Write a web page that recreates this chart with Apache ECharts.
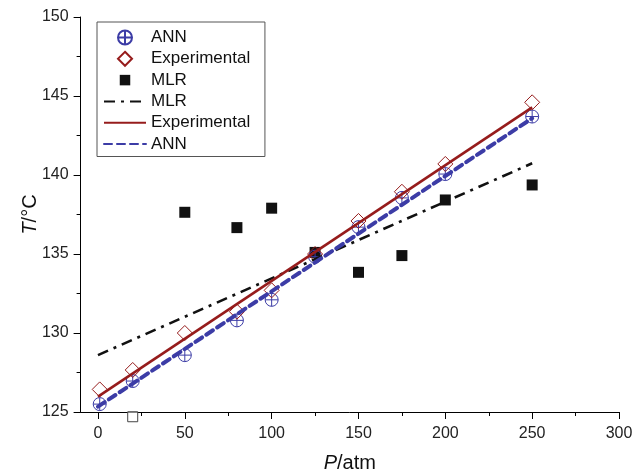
<!DOCTYPE html>
<html>
<head>
<meta charset="utf-8">
<script src="https://cdn.jsdelivr.net/npm/echarts@6/dist/echarts.min.js"></script>
<style>
html,body{margin:0;padding:0;background:#fff;}
#chart{width:632px;height:473px;}
</style>
</head>
<body>
<div id="chart"></div>
<script>
// ---- data ----
var pressure = [1, 20, 50, 80, 100, 125, 150, 175, 200, 250];
var annT = [125.5, 126.96, 128.6, 130.8, 132.1, 134.83, 136.7, 138.55, 140.06, 143.7];
var expT = [126.43, 127.66, 130.0, 131.35, 132.7, 135.0, 137.09, 138.94, 140.7, 144.6];
var mlrP = [50, 80, 100, 125, 150, 175, 200, 250];
var mlrT = [137.64, 136.67, 137.9, 135.1, 133.84, 134.9, 138.42, 139.37];
var mlrLowP = [20];
var mlrLowT = [124.7];
var fitP = [0, 250];
var mlrFitT = [128.6, 140.74];
var expFitT = [125.97, 144.28];
var annFitT = [125.34, 143.59];
var xTicks = [0, 300, 50];
var yTicks = [125, 150, 5];

function pairs(xs, ys) { return xs.map(function (x, i) { return [x, ys[i]]; }); }

var FONT = 'Liberation Sans, Arial, sans-serif';
var BLUE = '#3c3ca6';
var RED = '#961c1c';
var BLACK = '#111111';
var SYM_ANN = 'path://M0,10 A10,10 0 1,1 20,10 A10,10 0 1,1 0,10 Z M10,0 L10,20 M0,10 L20,10';
var SYM_DIA = 'path://M10,0 L20,10 L10,20 L0,10 Z';
var SYM_SQ = 'path://M0,0 M2.5,2.5 L17.5,2.5 L17.5,17.5 L2.5,17.5 Z M20,20';
var NOSYM = { color: 'rgba(0,0,0,0)', borderWidth: 0, borderColor: 'rgba(0,0,0,0)' };

var chart = echarts.init(document.getElementById('chart'));
chart.setOption({
  animation: false,
  backgroundColor: '#ffffff',
  textStyle: { fontFamily: FONT },
  grid: [
    { left: 80.6, right: 13, top: 17, bottom: 61, containLabel: false, outerBoundsMode: 'none' },
    { left: 98, right: 13, top: 17, bottom: 61, containLabel: false, outerBoundsMode: 'none' }
  ],
  legend: {
    orient: 'vertical',
    left: 97, top: 22,
    padding: [7, 10, 4, 6],
    borderColor: '#555', borderWidth: 1,
    itemWidth: 42, itemHeight: 14, itemGap: 4.3,
    textStyle: { fontFamily: FONT, fontSize: 17, color: '#111', lineHeight: 17 },
    data: [
      { name: 'ANN', icon: SYM_ANN },
      { name: 'Experimental', icon: SYM_DIA },
      { name: 'MLR', icon: SYM_SQ },
      { name: 'MLR ', itemStyle: NOSYM },
      { name: 'Experimental ', itemStyle: NOSYM },
      { name: 'ANN ', itemStyle: NOSYM }
    ]
  },
  xAxis: [
    {
      type: 'value', gridIndex: 0, min: -10, max: 300,
      axisLine: { show: true, onZero: false, lineStyle: { color: '#000', width: 1 } },
      axisTick: { show: false }, axisLabel: { show: false }, splitLine: { show: false },
      name: '{i|P}/atm', nameLocation: 'middle', nameGap: 41,
      nameTextStyle: { fontFamily: FONT, fontSize: 20, color: '#111',
        rich: { i: { fontStyle: 'italic', fontFamily: FONT, fontSize: 20, color: '#111' } } }
    },
    {
      type: 'value', gridIndex: 1, min: xTicks[0], max: xTicks[1], interval: xTicks[2],
      axisLine: { show: false, onZero: false },
      axisTick: { show: true, length: 7, lineStyle: { color: '#000' } },
      minorTick: { show: true, splitNumber: 2, length: 4, lineStyle: { color: '#000' } },
      axisLabel: { fontFamily: FONT, fontSize: 16, color: '#222', margin: 14 },
      splitLine: { show: false }
    }
  ],
  yAxis: [
    {
      type: 'value', gridIndex: 0, min: yTicks[0], max: yTicks[1], interval: yTicks[2],
      axisLine: { show: true, onZero: false, lineStyle: { color: '#000', width: 1 } },
      axisTick: { show: true, length: 7, lineStyle: { color: '#000' } },
      minorTick: { show: true, splitNumber: 2, length: 4, lineStyle: { color: '#000' } },
      axisLabel: { fontFamily: FONT, fontSize: 16, color: '#222', margin: 12 },
      splitLine: { show: false },
      name: '{i|T}/°C', nameLocation: 'middle', nameGap: 40, nameMoveOverlap: false,
      nameTextStyle: { fontFamily: FONT, fontSize: 20, color: '#111',
        rich: { i: { fontStyle: 'italic', fontFamily: FONT, fontSize: 20, color: '#111' } } }
    },
    { type: 'value', gridIndex: 1, min: 0, max: 1, show: false }
  ],
  series: [
    {
      name: 'ANN', type: 'scatter', xAxisIndex: 0, yAxisIndex: 0,
      symbol: SYM_ANN, symbolSize: 13,
      itemStyle: { color: 'rgba(0,0,0,0)', borderColor: BLUE, borderWidth: 1, opacity: 1 },
      data: pairs(pressure, annT), z: 3
    },
    {
      name: 'Experimental', type: 'scatter', xAxisIndex: 0, yAxisIndex: 0,
      symbol: SYM_DIA, symbolSize: 15,
      itemStyle: { color: 'rgba(0,0,0,0)', borderColor: RED, borderWidth: 1, opacity: 1 },
      data: pairs(pressure, expT), z: 3
    },
    {
      name: 'MLR', type: 'scatter', xAxisIndex: 0, yAxisIndex: 0,
      symbol: 'rect', symbolSize: 11,
      itemStyle: { color: BLACK, opacity: 1 },
      data: pairs(mlrP, mlrT), z: 2
    },
    {
      name: 'MLR low', type: 'scatter', xAxisIndex: 0, yAxisIndex: 0,
      symbol: 'rect', symbolSize: 10, clip: false,
      itemStyle: { color: 'rgba(255,255,255,0.6)', borderColor: '#444', borderWidth: 1, opacity: 1 },
      data: pairs(mlrLowP, mlrLowT), z: 2
    },
    {
      name: 'MLR ', type: 'line', xAxisIndex: 0, yAxisIndex: 0,
      symbol: 'none', showSymbol: false,
      itemStyle: { color: BLACK },
      lineStyle: { color: BLACK, width: 2.6, type: [11, 6, 3, 6] },
      data: pairs(fitP, mlrFitT), z: 4
    },
    {
      name: 'Experimental ', type: 'line', xAxisIndex: 0, yAxisIndex: 0,
      symbol: 'none', showSymbol: false,
      itemStyle: { color: RED },
      lineStyle: { color: RED, width: 2.6 },
      data: pairs(fitP, expFitT), z: 4
    },
    {
      name: 'ANN ', type: 'line', xAxisIndex: 0, yAxisIndex: 0,
      symbol: 'none', showSymbol: false,
      itemStyle: { color: BLUE },
      lineStyle: { color: BLUE, width: 4, type: [8, 5], cap: 'round' },
      data: pairs(fitP, annFitT), z: 5
    }
  ]
});
</script>
</body>
</html>
